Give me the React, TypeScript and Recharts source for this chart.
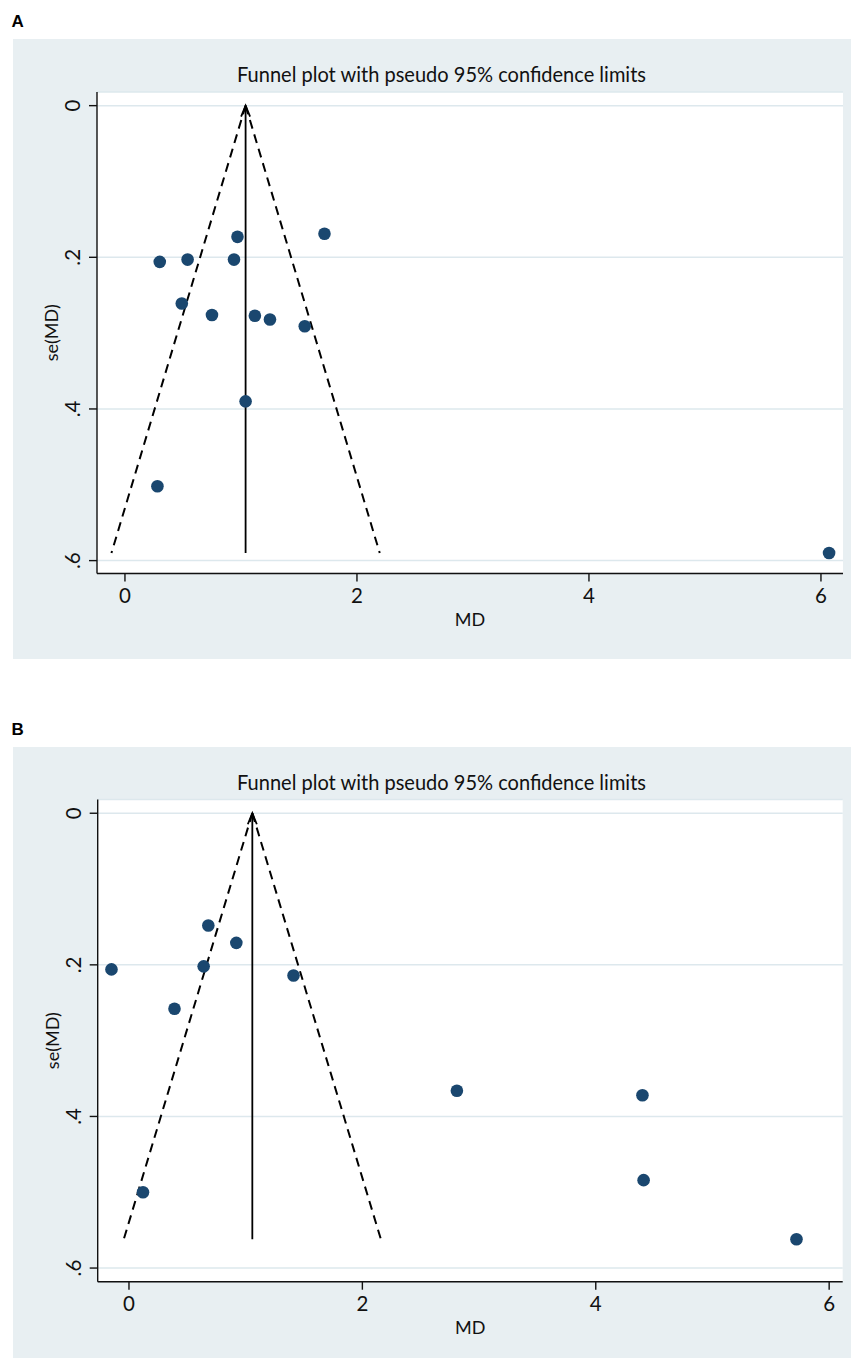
import {
  CartesianGrid,
  ReferenceLine,
  Scatter,
  ScatterChart,
  XAxis,
  YAxis,
} from "recharts";

// panel A: study effects (MD) and standard errors
const mdA = [0.3, 0.54, 0.97, 0.94, 1.72, 0.49, 0.75, 1.12, 1.25, 1.55, 1.04, 0.28, 6.07];
const seA = [0.206, 0.203, 0.173, 0.203, 0.169, 0.261, 0.276, 0.277, 0.282, 0.291, 0.39, 0.502, 0.59];
const pooledA = 1.04;
const maxSeA = 0.59;

// panel B
const mdB = [0.68, 0.92, -0.15, 0.64, 1.41, 0.39, 0.12, 2.81, 4.4, 4.41, 5.72];
const seB = [0.148, 0.171, 0.206, 0.202, 0.214, 0.258, 0.5, 0.366, 0.372, 0.484, 0.562];
const pooledB = 1.057;
const maxSeB = 0.562;

const xTicks = [0, 2, 4, 6];
const yTicks = [0, 0.2, 0.4, 0.6];
const title = "Funnel plot with pseudo 95% confidence limits";

const FONT = "Lato, 'Open Sans', sans-serif";
const BG = "#e8eff2";
const DOT = "#1a476f";
const INK = "#111";

const fmtY = (v: number) => (v === 0 ? "0" : String(v).replace(/^0/, ""));

function YTick(props: any) {
  const { x, y, payload } = props;
  return (
    <text
      x={x}
      y={y}
      transform={`rotate(-90 ${x} ${y})`}
      textAnchor="middle"
      fontSize={20.5}
      fontFamily={FONT}
      fill={INK}
    >
      {fmtY(payload.value)}
    </text>
  );
}

function ArrowLine(props: any) {
  const { x1, y1, x2, y2 } = props;
  return (
    <g>
      <line x1={x1} y1={y1} x2={x2} y2={y2} stroke="#000" strokeWidth={1.8} />
      <polyline
        points={`${x2 - 4.5},${y2 + 11} ${x2},${y2} ${x2 + 4.5},${y2 + 11}`}
        fill="none"
        stroke="#000"
        strokeWidth={1.8}
      />
    </g>
  );
}

function Dot(props: any) {
  return <circle cx={props.cx} cy={props.cy} r={6.3} fill={DOT} />;
}

type PanelProps = {
  label: string;
  top: number;
  height: number;
  md: number[];
  se: number[];
  pooled: number;
  maxSe: number;
  xDomain: [number, number];
  yDomain: [number, number];
  margin: { top: number; right: number; left: number; bottom: number };
};

function Panel({ label, top, height, md, se, pooled, maxSe, xDomain, yDomain, margin }: PanelProps) {
  const data = md.map((m, i) => ({ md: m, se: se[i] }));
  const half = 1.96 * maxSe;
  return (
    <>
      <svg width={40} height={32} style={{ position: "absolute", left: 0, top: top - 32 }}>
        <text
          x={11.5}
          y={20}
          fontFamily="'Liberation Sans', Arial, sans-serif"
          fontWeight={700}
          fontSize={17}
          fill="#000"
        >
          {label}
        </text>
      </svg>
      <div style={{ position: "absolute", left: 13, top, width: 838, height, background: BG }}>
        <svg width={838} height={60} style={{ position: "absolute", left: 0, top: 0 }}>
          <text
            x={428.5}
            y={42.5}
            textAnchor="middle"
            fontSize={20.5}
            fontFamily={FONT}
            fill={INK}
            textLength={409}
            lengthAdjust="spacingAndGlyphs"
          >
            {title}
          </text>
        </svg>
        <ScatterChart width={838} height={height} margin={margin}>
          <CartesianGrid fill="#ffffff" vertical={false} stroke="#dde8ed" strokeWidth={1.5} />
          <XAxis
            dataKey="md"
            type="number"
            domain={xDomain}
            allowDataOverflow
            ticks={xTicks}
            height={60}
            tickSize={8}
            tickMargin={7}
            axisLine={{ stroke: INK, strokeWidth: 1.4 }}
            tickLine={{ stroke: INK, strokeWidth: 1.4 }}
            tick={{ fill: INK, fontSize: 20.5, fontFamily: FONT }}
            label={{
              value: "MD",
              position: "insideBottom",
              offset: 7.5,
              fill: INK,
              fontSize: 18,
              fontFamily: FONT,
            }}
          />
          <YAxis
            dataKey="se"
            type="number"
            reversed
            domain={yDomain}
            allowDataOverflow
            ticks={yTicks}
            width={70}
            tickSize={8}
            tickMargin={9}
            axisLine={{ stroke: INK, strokeWidth: 1.4 }}
            tickLine={{ stroke: INK, strokeWidth: 1.4 }}
            tick={<YTick />}
            label={{
              value: "se(MD)",
              angle: -90,
              position: "insideLeft",
              offset: 25,
              fill: INK,
              fontSize: 18,
              fontFamily: FONT,
              style: { textAnchor: "middle" },
            }}
          />
          <Scatter data={data} shape={<Dot />} isAnimationActive={false} />
          <ReferenceLine
            segment={[
              { x: pooled, y: 0 },
              { x: pooled - half, y: maxSe },
            ]}
            stroke="#000"
            strokeWidth={2}
            strokeDasharray="9 6"
          />
          <ReferenceLine
            segment={[
              { x: pooled, y: 0 },
              { x: pooled + half, y: maxSe },
            ]}
            stroke="#000"
            strokeWidth={2}
            strokeDasharray="9 6"
          />
          <ReferenceLine
            segment={[
              { x: pooled, y: maxSe },
              { x: pooled, y: 0 },
            ]}
            shape={ArrowLine}
          />
        </ScatterChart>
      </div>
    </>
  );
}

export default function App() {
  return (
    <div
      style={{
        position: "absolute",
        left: 0,
        top: 0,
        width: 851,
        height: 1358,
        background: "#fff",
        overflow: "hidden",
      }}
    >
      <Panel
        label="A"
        top={39}
        height={620}
        md={mdA}
        se={seA}
        pooled={pooledA}
        maxSe={maxSeA}
        xDomain={[-0.241, 6.19]}
        yDomain={[-0.018, 0.617]}
        margin={{ top: 53, right: 8, left: 14, bottom: 25.5 }}
      />
      <Panel
        label="B"
        top={747}
        height={611}
        md={mdB}
        se={seB}
        pooled={pooledB}
        maxSe={maxSeB}
        xDomain={[-0.268, 6.116]}
        yDomain={[-0.018, 0.618]}
        margin={{ top: 52.6, right: 8.3, left: 14.7, bottom: 16.3 }}
      />
    </div>
  );
}
